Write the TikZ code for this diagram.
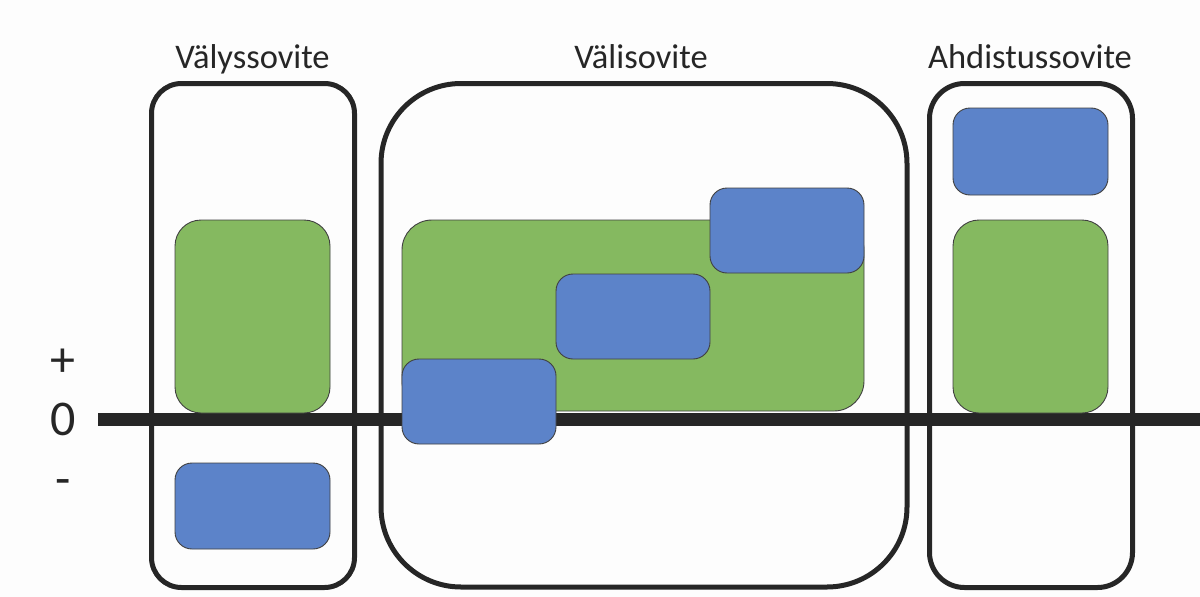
\documentclass[tikz,border=0pt]{standalone}
\usepackage{fontspec}
\setmainfont{Carlito}
\definecolor{ink}{RGB}{38,38,38}
\definecolor{grn}{RGB}{133,185,96}
\definecolor{blu}{RGB}{92,131,201}
\definecolor{edge}{RGB}{64,64,64}
\definecolor{bg}{RGB}{253,253,253}
\tikzset{
  group/.style={draw=ink, line width=5pt, fill=none, inner sep=0pt, rectangle},
  greenbox/.style={draw=edge, line width=0.9pt, fill=grn, inner sep=0pt, rectangle, rounded corners=26pt},
  bluebox/.style={draw=edge, line width=0.9pt, fill=blu, inner sep=0pt, rectangle, rounded corners=17pt, minimum width=154pt, minimum height=85pt},
  title/.style={font=\fontsize{34.5}{38}\selectfont, text=ink, anchor=base, inner sep=0pt},
  axislabel/.style={font=\fontsize{50}{55}\selectfont, text=ink, inner sep=0pt, anchor=base},
}
\begin{document}
\begin{tikzpicture}[x=1pt,y=-1pt]
\fill[bg] (0,0) rectangle (1200,597);
\useasboundingbox (0,0) rectangle (1200,597);
% group frames
\node[group, rounded corners=30pt, minimum width=203pt, minimum height=504pt] (gl) at (253,335.5) {};
\node[group, rounded corners=80pt, minimum width=526pt, minimum height=503.5pt] (gm) at (644,335.25) {};
\node[group, rounded corners=35pt, minimum width=203pt, minimum height=504pt] (gr) at (1031,335.5) {};
% axis
\coordinate (axl) at (98,419.5);
\coordinate (axr) at (1200,419.5);
\draw[ink, line width=13pt] (axl) -- (axr);
% green boxes
\node[greenbox, minimum width=155pt, minimum height=193pt] (gnl) at (252.5,316.5) {};
\node[greenbox, rounded corners=30pt, minimum width=462pt, minimum height=191pt] (gnm) at (633,315.5) {};
\node[greenbox, minimum width=155pt, minimum height=193pt] (gnr) at (1030.5,316.5) {};
% blue boxes
\node[bluebox, minimum width=155pt, minimum height=86pt] (bl) at (252.5,506) {};
\node[bluebox] (bm1) at (479,401.5) {};
\node[bluebox] (bm2) at (633,316.5) {};
\node[bluebox] (bm3) at (787,230.5) {};
\node[bluebox, minimum width=155pt, minimum height=87pt] (br) at (1030.5,151.5) {};
% titles
\node[title] (tl) at (252.5,68) {Välyssovite};
\node[title] (tm) at (641,68) {Välisovite};
\node[title] (tr) at (1030,68) {Ahdistussovite};
% axis labels
\node[axislabel] (lp) at (63,376) {+};
\node[axislabel] (l0) at (63,435) {0};
\node[axislabel] (lm) at (63,495) {-};
\end{tikzpicture}
\end{document}
